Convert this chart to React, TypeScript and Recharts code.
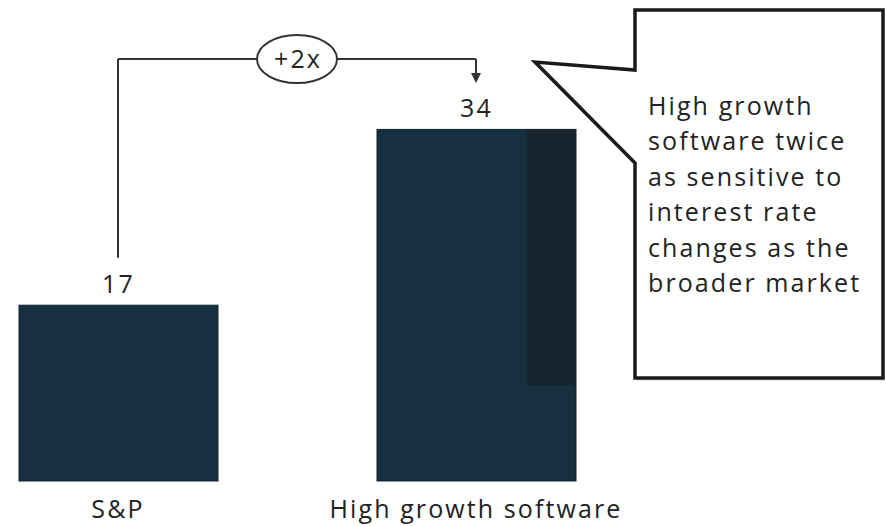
import { BarChart, Bar, XAxis, YAxis, ReferenceLine, ReferenceDot, LabelList } from 'recharts'

const categories = ['S&P', 'High growth software']
const durations = [17, 34]
const calloutLines = [
  'High growth',
  'software twice',
  'as sensitive to',
  'interest rate',
  'changes as the',
  'broader market'
]
const multipleLabel = '+2x'

const data = categories.map((name, i) => ({ name, value: durations[i] }))

const FONT = '"Open Sans", "Noto Sans", sans-serif'
const SPACING = 2.1
const BAR = '#16303f'
const INK = '#222'

// connector levels, in value units
const topLevel = Math.max(...durations) * 1.2
const startLevel = durations[0] * 1.27
const arrowLevel = durations[1] * 1.132

function BarShape(props: any) {
  const { x, y, width, height, index } = props
  return (
    <g>
      <rect x={x} y={y} width={width} height={height} fill={BAR} stroke="#10222d" strokeWidth={1} />
      {index === 1 && (
        // scan shadow on the tall bar
        <rect x={x + width * 0.755} y={y} width={width * 0.245} height={height * 0.727} fill="#18252f" />
      )}
    </g>
  )
}

function MultipleLabel(props: any) {
  const vb = props.viewBox || {}
  const cx = vb.x1 !== undefined ? (vb.x1 + vb.x2) / 2 : vb.x + (vb.width || 0) / 2
  const cy = vb.y1 !== undefined ? (vb.y1 + vb.y2) / 2 : vb.y + (vb.height || 0) / 2
  return (
    <g>
      <ellipse cx={cx} cy={cy} rx={40} ry={24} fill="#fff" stroke="#333" strokeWidth={2} />
      <text x={cx + 1} y={cy + 9} textAnchor="middle" fontSize={25} letterSpacing={SPACING} fontFamily={FONT} fill={INK}>
        {multipleLabel}
      </text>
    </g>
  )
}

function Arrow(props: any) {
  const { cx, cy } = props
  return <path d={`M${cx - 5},${cy - 10} L${cx + 5},${cy - 10} L${cx},${cy} Z`} fill="#333" />
}

export default function App() {
  return (
    <div style={{ position: 'absolute', left: 0, top: 0, width: 886, height: 526, background: '#fff', overflow: 'hidden' }}>
      <div style={{ position: 'absolute', left: -61, top: 0 }}>
        <BarChart width={716} height={526} data={data} margin={{ top: 26, right: 0, bottom: 0, left: 0 }}>
          <XAxis
            dataKey="name"
            axisLine={false}
            tickLine={false}
            height={45}
            tickMargin={13}
            tick={{ fontSize: 25, fontFamily: FONT, fill: INK, letterSpacing: SPACING }}
          />
          <YAxis hide domain={[0, 44]} />
          <Bar dataKey="value" barSize={199} shape={<BarShape />} isAnimationActive={false}>
            <LabelList
              dataKey="value"
              position="top"
              offset={12}
              fontSize={25}
              fontFamily={FONT}
              letterSpacing={SPACING}
              fill={INK}
            />
          </Bar>
          <ReferenceLine
            segment={[{ x: categories[0], y: startLevel }, { x: categories[0], y: topLevel }]}
            stroke="#333"
            strokeWidth={2}
          />
          <ReferenceLine
            segment={[{ x: categories[0], y: topLevel }, { x: categories[1], y: topLevel }]}
            stroke="#333"
            strokeWidth={2}
            label={(p: any) => <MultipleLabel {...p} />}
          />
          <ReferenceLine
            segment={[{ x: categories[1], y: topLevel }, { x: categories[1], y: arrowLevel + 0.8 }]}
            stroke="#333"
            strokeWidth={2}
          />
          <ReferenceDot x={categories[1]} y={arrowLevel} r={0} shape={(p: any) => <Arrow {...p} />} />
        </BarChart>
      </div>
      <svg width={886} height={526} style={{ position: 'absolute', left: 0, top: 0, pointerEvents: 'none' }}>
        <path d="M637,13 L885,13 L885,381 L637,381 Z" fill="#d0d0d0" opacity={0.5} />
        <path
          d="M635,10 L883,10 L883,378 L635,378 L635,163 L535,62 L635,70 Z"
          fill="#fff"
          stroke="#1a1a1a"
          strokeWidth={3.5}
          strokeLinejoin="miter"
        />
        {calloutLines.map((line, i) => (
          <text key={line} x={648} y={115 + i * 35.4} fontSize={25} letterSpacing={SPACING} fontFamily={FONT} fill={INK}>
            {line}
          </text>
        ))}
      </svg>
    </div>
  )
}
